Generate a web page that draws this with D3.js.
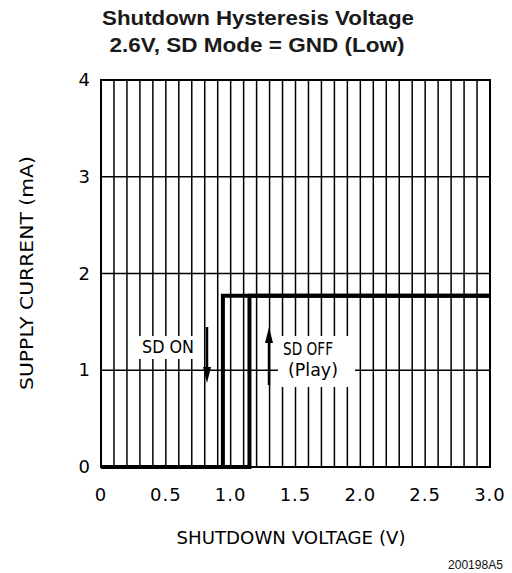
<!DOCTYPE html>
<html><head><meta charset="utf-8">
<script src="https://cdn.jsdelivr.net/npm/d3@7"></script>
<style>body{margin:0;background:#fff}svg{display:block}</style>
</head><body>
<svg id="c" width="512" height="573"></svg>
<script>
const titleLines = ["Shutdown Hysteresis Voltage", "2.6V, SD Mode = GND (Low)"];
const xLabel = "SHUTDOWN VOLTAGE (V)";
const yLabel = "SUPPLY CURRENT (mA)";
const figId = "200198A5";
const xTicks = [0, 0.5, 1.0, 1.5, 2.0, 2.5, 3.0];
const xTickLabels = ["0", "0.5", "1.0", "1.5", "2.0", "2.5", "3.0"];
const yTicks = [0, 1, 2, 3, 4];
const xGrid = d3.range(0, 31).map(i => i / 10);
// Hysteresis traces (V, mA)
const sdOnV = [0, 0.94, 0.94, 3.0];
const sdOnI = [0, 0, 1.77, 1.77];
const sdOffV = [0, 1.145, 1.145, 3.0];
const sdOffI = [0, 0, 1.77, 1.77];

const svg = d3.select("#c");
const L = 101, R = 490, T = 80, B = 467;
const x = d3.scaleLinear().domain([0, 3]).range([L, R]);
const y = d3.scaleLinear().domain([0, 4]).range([B, T]);
const mono = "'DejaVu Sans', sans-serif";
const arial = "'Liberation Sans', Arial, sans-serif";

// title
svg.append("text").attr("x", 258).attr("y", 25).attr("text-anchor", "middle")
  .attr("font-family", arial).attr("font-weight", "bold")
  .attr("font-size", 21).attr("fill", "#1a1a1a")
  .attr("textLength", 312).attr("lengthAdjust", "spacingAndGlyphs").text(titleLines[0]);
svg.append("text").attr("x", 257).attr("y", 52).attr("text-anchor", "middle")
  .attr("font-family", arial).attr("font-weight", "bold")
  .attr("font-size", 21).attr("fill", "#1a1a1a")
  .attr("textLength", 295).attr("lengthAdjust", "spacingAndGlyphs").text(titleLines[1]);

// grid
const g = svg.append("g");
g.selectAll("line.v").data(xGrid).join("line")
  .attr("x1", d => x(d)).attr("x2", d => x(d)).attr("y1", T).attr("y2", B)
  .attr("stroke", "#000").attr("stroke-width", 1.5);
g.selectAll("line.h").data(yTicks).join("line")
  .attr("x1", L).attr("x2", R).attr("y1", d => y(d)).attr("y2", d => y(d))
  .attr("stroke", "#000").attr("stroke-width", 1.5);
g.append("rect").attr("x", L).attr("y", T).attr("width", R - L).attr("height", B - T)
  .attr("fill", "none").attr("stroke", "#000").attr("stroke-width", 2);

// label background boxes (mask grid)
svg.append("rect").attr("x", 138).attr("y", 336).attr("width", 60).attr("height", 23).attr("fill", "#fff");
svg.append("rect").attr("x", 278).attr("y", 336).attr("width", 77).attr("height", 51).attr("fill", "#fff");

// traces
const line = d3.line().x(d => x(d[0])).y(d => y(d[1]));
const on = sdOnV.map((v, i) => [v, sdOnI[i]]);
const off = sdOffV.map((v, i) => [v, sdOffI[i]]);
svg.append("path").attr("d", line(on)).attr("fill", "none").attr("stroke", "#000").attr("stroke-width", 4);
svg.append("path").attr("d", line(off)).attr("fill", "none").attr("stroke", "#000").attr("stroke-width", 4);

// annotations
function label(t, cx, by, len) {
  svg.append("text").attr("x", cx).attr("y", by).attr("text-anchor", "middle")
    .attr("font-family", mono).attr("font-size", 17).attr("fill", "#000")
    .attr("textLength", len).attr("lengthAdjust", "spacingAndGlyphs").text(t);
}
label("SD ON", 168, 353, 52);
label("SD OFF", 308, 355, 50);
label("(Play)", 313, 376, 50);
// arrows
function arrow(xp, y0, y1) {
  const dir = Math.sign(y1 - y0);
  svg.append("line").attr("x1", xp).attr("x2", xp).attr("y1", y0).attr("y2", y1 - dir * 10)
    .attr("stroke", "#000").attr("stroke-width", 2.5);
  svg.append("path").attr("d", `M${xp - 4},${y1 - dir * 16} L${xp + 4},${y1 - dir * 16} L${xp},${y1} Z`).attr("fill", "#000");
}
arrow(207, 327, 383);
arrow(269, 385, 327);

// axis tick labels
svg.selectAll("text.xt").data(xTicks).join("text")
  .attr("x", d => x(d)).attr("y", 501).attr("text-anchor", "middle")
  .attr("font-family", mono).attr("font-size", 18).attr("fill", "#000")
  .attr("letter-spacing", 1)
  .text((d, i) => xTickLabels[i]);
svg.selectAll("text.yt").data(yTicks).join("text")
  .attr("x", 90).attr("y", d => y(d) + 6).attr("text-anchor", "end")
  .attr("font-family", mono).attr("font-size", 18).attr("fill", "#000").text(d => d);

// axis titles
svg.append("text").attr("x", 291).attr("y", 544).attr("text-anchor", "middle")
  .attr("font-family", mono).attr("font-size", 17).attr("fill", "#000")
  .attr("textLength", 229).attr("lengthAdjust", "spacingAndGlyphs").text(xLabel);
svg.append("text").attr("transform", "translate(33,273) rotate(-90)").attr("text-anchor", "middle")
  .attr("font-family", mono).attr("font-size", 17).attr("fill", "#000")
  .attr("textLength", 234).attr("lengthAdjust", "spacingAndGlyphs").text(yLabel);

svg.append("text").attr("x", 503).attr("y", 569).attr("text-anchor", "end")
  .attr("font-family", arial).attr("font-size", 12.5).attr("fill", "#111")
  .attr("textLength", 55).attr("lengthAdjust", "spacingAndGlyphs").text(figId);
</script>
</body></html>
